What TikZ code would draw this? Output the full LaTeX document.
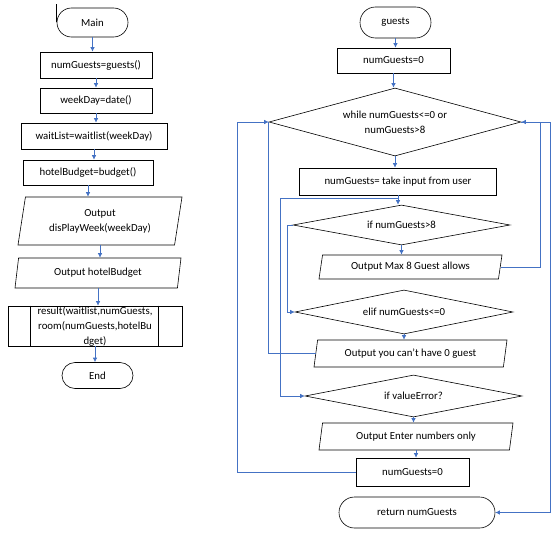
\documentclass[tikz,border=0pt]{standalone}
\usepackage{fontspec}
\setmainfont{Carlito}
\usetikzlibrary{shapes.geometric,shapes.misc,arrows.meta}
\definecolor{cline}{RGB}{68,114,196}
\tikzset{
  chart/.style={x=1pt,y=-1pt,font=\fontsize{10.8}{15}\selectfont},
  box/.style={draw,line width=0.6pt,rectangle,align=center,inner sep=2pt},
  term/.style={box,rounded rectangle},
  io/.style={box,trapezium,trapezium left angle=75,trapezium right angle=105,trapezium stretches body},
  cond/.style={box,diamond},
  flow/.style={cline,line width=0.7pt,-{Latex[length=4.5pt,width=4.5pt]}},
  link/.style={cline,line width=0.7pt},
}

\begin{document}
\begin{tikzpicture}[chart]
    \useasboundingbox (0,0) rectangle (560,535);
    % main program
    \node[term,minimum width=75pt,minimum height=29pt] (main) at (92.5,22.5) {Main};
    \node[box,minimum width=112pt,minimum height=26pt] (ng) at (96,65) {numGuests=guests()};
    \node[box,minimum width=112pt,minimum height=25pt] (wd) at (96,100.5) {weekDay=date()};
    \node[box,minimum width=146pt,minimum height=26pt] (wl) at (94,136) {waitList=waitlist(weekDay)};
    \node[box,minimum width=130pt,minimum height=25pt] (hb) at (88,172.5) {hotelBudget=budget()};
    \node[io,minimum width=164pt,minimum height=48pt] (pw) at (100,221) {Output\\disPlayWeek(weekDay)};
    \node[io,minimum width=166pt,minimum height=30pt] (ph) at (98,273) {Output hotelBudget};
    \node[box,inner sep=0pt,minimum width=174pt,minimum height=40pt] (res) at (95,326) {result(waitlist,numGuests,\\room(numGuests,hotelBu\\dget)};
    \draw[line width=0.6pt] ([xshift=23pt]res.north west) -- ([xshift=23pt]res.south west);
    \draw[line width=0.6pt] ([xshift=-24pt]res.north east) -- ([xshift=-24pt]res.south east);
    \node[term,minimum width=75pt,minimum height=26pt] (end) at (97.5,375.5) {End};
    \draw[line width=0.6pt] (main.west) -- ++(0,-18);
    \foreach \a/\b in {main/ng,ng/wd,wd/wl,wl/hb,hb/pw,pw/ph,ph/res,res/end}
        \draw[flow] (\a.south) -- (\a.south |- \b.north);

    % guests()
    \node[term,minimum width=75pt,minimum height=31pt] (gs) at (395.5,22.5) {guests};
    \node[box,minimum width=113pt,minimum height=25pt] (z0) at (393.5,60.5) {numGuests=0};
    \node[cond,minimum width=252pt,minimum height=68pt,aspect=3.7] (wh) at (395,122) {while numGuests<=0 or\\numGuests>8};
    \node[box,minimum width=197pt,minimum height=27pt] (inp) at (398,181.5) {numGuests= take input from user};
    \node[cond,minimum width=217pt,minimum height=40pt,aspect=5.4] (if8) at (401.5,225) {if numGuests>8};
    \node[io,minimum width=183pt,minimum height=24pt] (max8) at (410.5,267) {Output Max 8 Guest allows};
    \node[cond,minimum width=218pt,minimum height=44pt,aspect=5] (elif) at (404,312) {elif numGuests<=0};
    \node[io,minimum width=193pt,minimum height=27pt] (cant) at (410.5,353.5) {Output you can’t have 0 guest};
    \node[cond,minimum width=217pt,minimum height=42pt,aspect=5.2] (ve) at (413.5,396) {if valueError?};
    \node[io,minimum width=194pt,minimum height=27pt] (ent) at (416,436.5) {Output Enter numbers only};
    \node[box,minimum width=113pt,minimum height=28pt] (z1) at (412.5,472) {numGuests=0};
    \node[term,minimum width=160pt,minimum height=31pt] (ret) at (417,512.5) {return numGuests};

    \coordinate (lout) at (237,122);
    \coordinate (rin) at (540,122);
    \coordinate (rout) at (550,122);
    \coordinate (tr) at (280,198);

    \foreach \a/\b in {gs/z0,z0/wh,wh/inp,inp/if8,if8/max8,elif/cant,ve/ent,ent/z1}
        \draw[flow] (\a.south) -- (\a.south |- \b.north);
    \draw[flow] (inp.south) |- (tr) |- (ve.west);
    \draw[flow] (if8.west) -- ++(-5,0) |- (elif.west);
    \draw[flow] (max8.east) -| (rin) -- (wh.east);
    \draw[link] (cant.west) -| (wh.west);
    \draw[flow] (z1.west) -| (lout) -- (wh.west);
    \draw[flow] (wh.east) -- (rout) |- (ret.east);
\end{tikzpicture}
\end{document}
